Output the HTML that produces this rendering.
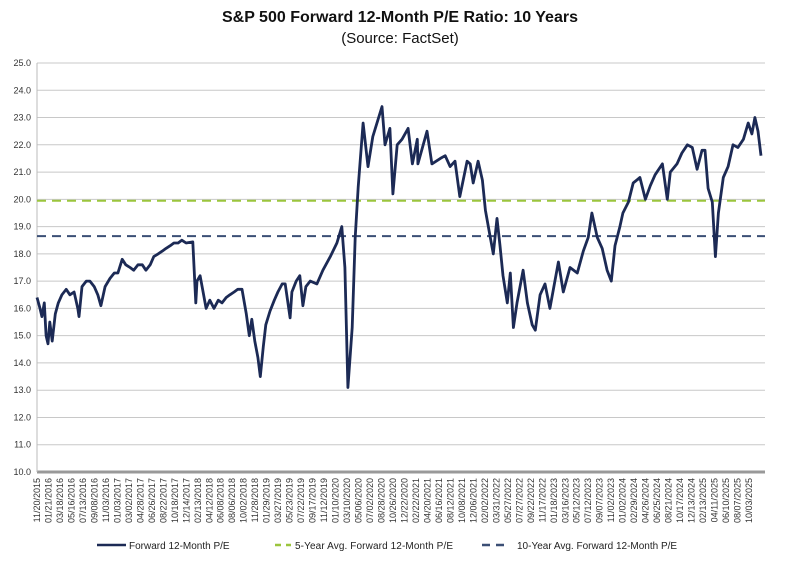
<!DOCTYPE html>
<html><head><meta charset="utf-8"><style>
body{margin:0;background:#fff;width:800px;height:560px;overflow:hidden;font-family:"Liberation Sans",Arial,sans-serif}
</style></head><body>
<svg id="chart" width="800" height="560" xmlns="http://www.w3.org/2000/svg" font-family="Liberation Sans, Arial, sans-serif">
<text x="400" y="22" text-anchor="middle" font-size="16" font-weight="bold" fill="#111">S&amp;P 500 Forward 12-Month P/E Ratio: 10 Years</text>
<text x="400" y="43" text-anchor="middle" font-size="15" fill="#111">(Source: FactSet)</text>
<g id="grid"></g><g id="ylab"></g><g id="xlab"></g><g id="avg"></g><g id="series"></g>
<g font-size="10" fill="#222">
<line x1="97" y1="545" x2="126" y2="545" stroke="#1c2a55" stroke-width="2.5"/>
<text x="129" y="549">Forward 12-Month P/E</text>
<line x1="275" y1="545" x2="291" y2="545" stroke="#9bc53d" stroke-width="2.5" stroke-dasharray="6,5"/>
<text x="295" y="549" textLength="158">5-Year Avg. Forward 12-Month P/E</text>
<line x1="482" y1="545" x2="510" y2="545" stroke="#3b4f75" stroke-width="2.5" stroke-dasharray="8,6"/>
<text x="517" y="549">10-Year Avg. Forward 12-Month P/E</text>
</g>
</svg>
<script>
const dateLabels=["11/20/2015","01/21/2016","03/18/2016","05/16/2016","07/13/2016","09/08/2016","11/03/2016","01/03/2017","03/02/2017","04/28/2017","06/26/2017","08/22/2017","10/18/2017","12/14/2017","02/13/2018","04/12/2018","06/08/2018","08/06/2018","10/02/2018","11/28/2018","01/29/2019","03/27/2019","05/23/2019","07/22/2019","09/17/2019","11/12/2019","01/10/2020","03/10/2020","05/06/2020","07/02/2020","08/28/2020","10/26/2020","12/22/2020","02/22/2021","04/20/2021","06/16/2021","08/12/2021","10/08/2021","12/06/2021","02/02/2022","03/31/2022","05/27/2022","07/27/2022","09/22/2022","11/17/2022","01/18/2023","03/16/2023","05/12/2023","07/12/2023","09/07/2023","11/02/2023","01/02/2024","02/29/2024","04/26/2024","06/25/2024","08/21/2024","10/17/2024","12/13/2024","02/13/2025","04/11/2025","06/10/2025","08/07/2025","10/03/2025"];
const yTicks=[10,11,12,13,14,15,16,17,18,19,20,21,22,23,24,25];
const months=[0,0.5,0.8,1.2,1.5,1.8,2.1,2.5,3.0,3.5,4.1,4.8,5.4,6.1,6.7,6.9,7.4,8.1,8.7,9.4,10.0,10.5,11.2,12.0,12.7,13.3,14.0,14.6,15.3,15.9,16.6,17.3,17.9,18.6,19.2,19.9,20.6,21.2,21.9,22.5,23.2,23.8,24.5,25.6,26.1,26.3,26.8,27.3,27.8,28.4,29.1,29.8,30.4,31.1,31.7,32.4,33.0,33.7,34.4,34.9,35.3,35.8,36.3,36.7,37.2,37.6,38.3,39.0,39.6,40.3,40.8,41.6,41.9,42.6,43.2,43.7,44.2,44.9,46.0,47.0,48.2,49.3,50.1,50.6,51.1,51.8,52.3,52.8,53.6,54.4,55.2,56.7,57.2,58.0,58.5,59.2,60.0,61.0,61.7,62.5,62.6,64.1,64.9,66.3,67.1,67.9,68.7,69.5,70.7,71.2,71.7,72.5,73.2,73.7,74.5,75.0,75.6,76.1,76.6,77.3,77.8,78.3,78.9,79.9,80.6,81.4,81.9,82.7,83.5,84.3,85.7,86.5,87.6,88.8,89.8,90.6,91.2,92.1,92.9,93.7,94.4,95.0,95.8,96.3,97.2,98.0,99.1,100.0,100.8,101.6,102.8,103.6,104.1,105.2,106.0,106.9,107.7,108.5,109.3,109.8,110.3,111.0,111.5,112.0,112.8,113.6,114.4,115.2,116.1,116.9,117.5,118.0,118.5,119.0];
const peValues=[16.4,16.0,15.7,16.2,15.0,14.7,15.5,14.8,15.8,16.2,16.5,16.7,16.5,16.6,16.0,15.7,16.8,17.0,17.0,16.8,16.5,16.1,16.8,17.1,17.3,17.3,17.8,17.6,17.5,17.4,17.6,17.6,17.4,17.6,17.9,18.0,18.1,18.2,18.3,18.4,18.4,18.5,18.4,18.44,16.2,17.0,17.2,16.6,16.0,16.3,16.0,16.3,16.2,16.4,16.5,16.6,16.7,16.7,15.8,15.0,15.6,14.8,14.2,13.5,14.6,15.4,15.9,16.3,16.6,16.9,16.9,15.65,16.6,17.0,17.2,16.1,16.8,17.0,16.9,17.4,17.9,18.4,19.0,17.5,13.1,15.3,18.6,20.45,22.8,21.2,22.3,23.4,22.0,22.6,20.2,22.0,22.2,22.6,21.3,22.2,21.3,22.5,21.3,21.5,21.6,21.2,21.4,20.1,21.4,21.3,20.6,21.4,20.7,19.6,18.6,18.0,19.3,18.3,17.2,16.2,17.3,15.3,16.2,17.4,16.2,15.4,15.2,16.5,16.9,16.0,17.7,16.6,17.5,17.3,18.1,18.6,19.5,18.6,18.2,17.4,17.0,18.3,19.0,19.5,19.9,20.6,20.8,20.0,20.5,20.9,21.3,20.0,21.0,21.3,21.7,22.0,21.9,21.1,21.8,21.8,20.4,19.9,17.9,19.5,20.8,21.2,22.0,21.9,22.2,22.8,22.4,23.0,22.5,21.6];
const avg5=19.95, avg10=18.65;
const NS="http://www.w3.org/2000/svg";
const X0=37,X1=761,Y0=472,Y1=63;
const xM=m=>X0+(m/119)*(X1-X0);
const yV=v=>Y0-(v-10)/15*(Y0-Y1);
function mk(t,a,p){const e=document.createElementNS(NS,t);for(const k in a)e.setAttribute(k,a[k]);document.getElementById(p).appendChild(e);return e;}
yTicks.forEach(v=>{
 const g=mk('line',{x1:X0,x2:765,y1:yV(v),y2:yV(v),stroke:v===10?'#999':'#c8c8c8','stroke-width':v===10?3:1},'grid');
 
 
 const t=mk('text',{x:X0-6,y:yV(v)+3,'text-anchor':'end','font-size':'9',fill:'#333'},'ylab');
 t.textContent=v.toFixed(1);
 
 
});
mk('line',{x1:X0,x2:X0,y1:Y1,y2:Y0,stroke:'#bbb','stroke-width':1},'grid');
const step=(749-37)/(dateLabels.length-1);
dateLabels.forEach((d,i)=>{
 const x=37+i*step;
 const t=mk('text',{transform:`translate(${x+3},${478}) rotate(-90)`,'text-anchor':'end','font-size':'9',fill:'#333'},'xlab');
 t.textContent=d;
 
 
});
const a5=mk('line',{x1:X0,x2:765,y1:yV(avg5),y2:yV(avg5),stroke:'#9bc53d','stroke-width':2,'stroke-dasharray':'9,6'},'avg');


const a10=mk('line',{x1:X0,x2:765,y1:yV(avg10),y2:yV(avg10),stroke:'#3b4f75','stroke-width':2,'stroke-dasharray':'9,6'},'avg');


const pts=months.map((m,i)=>xM(m).toFixed(1)+','+yV(peValues[i]).toFixed(1)).join(' ');
const pl=mk('polyline',{points:pts,fill:'none',stroke:'#1c2a55','stroke-width':2.8,'stroke-linejoin':'round'},'series');


</script>
</body></html>
